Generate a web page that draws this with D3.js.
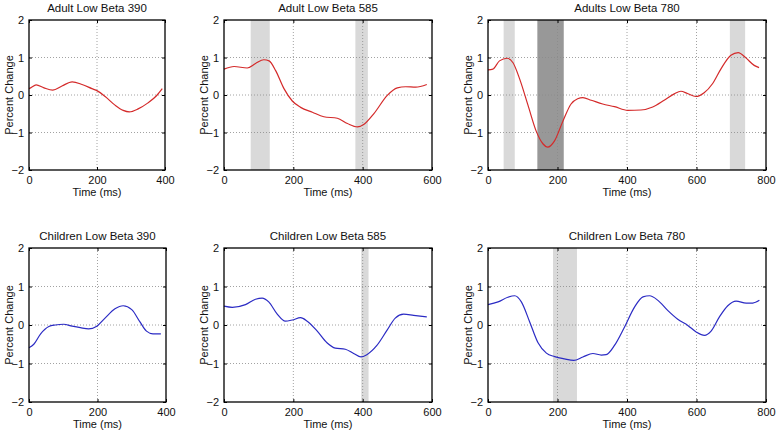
<!DOCTYPE html>
<html lang="en">
<head>
<meta charset="utf-8">
<title>Low Beta percent change</title>
<script src="https://cdn.jsdelivr.net/npm/d3@7"></script>
<style>
  body { margin: 0; background: #fff; }
  text { font-family: "Liberation Sans", Arial, sans-serif; fill: #111; }
</style>
</head>
<body>
<script>
// curve samples, [time (ms), percent change]
var adult390 = [[0,0.17],[5,0.19],[21,0.27],[44,0.19],[70,0.13],[97,0.24],[127,0.35],[156,0.28],[185,0.17],[201,0.11],
  [224,-0.04],[253,-0.27],[277,-0.41],[295,-0.45],[321,-0.37],[350,-0.21],[375,-0.02],[392,0.17]];
var adult585 = [[0,0.69],[29,0.76],[67,0.72],[91,0.84],[115,0.94],[130,0.91],[149,0.65],[173,0.17],[197,-0.16],[221,-0.33],
  [255,-0.46],[288,-0.58],[327,-0.62],[356,-0.76],[385,-0.85],[404,-0.78],[433,-0.49],[471,-0.01],[500,0.19],[524,0.22],[553,0.21],[585,0.28]];
var adult780 = [[0,0.67],[14,0.69],[33,0.91],[55,0.98],[72,0.86],[91,0.43],[115,-0.27],[139,-0.97],[158,-1.30],[172,-1.39],
  [191,-1.23],[215,-0.71],[239,-0.24],[258,-0.10],[273,-0.07],[297,-0.14],[330,-0.24],[364,-0.31],[402,-0.41],[440,-0.40],
  [474,-0.32],[507,-0.14],[536,0.03],[555,0.10],[574,0.04],[598,-0.04],[622,0.06],[646,0.30],[670,0.69],[699,1.06],
  [720,1.13],[742,0.99],[766,0.79],[780,0.73]];
var child390 = [[0,-0.59],[14,-0.50],[34,-0.23],[58,-0.04],[77,0.0],[101,0.02],[126,-0.03],[150,-0.07],[174,-0.10],[198,-0.03],
  [222,0.18],[251,0.42],[275,0.50],[300,0.40],[324,0.08],[343,-0.16],[362,-0.23],[385,-0.23]];
var child585 = [[0,0.49],[24,0.46],[62,0.53],[91,0.67],[110,0.70],[129,0.60],[153,0.29],[177,0.10],[197,0.13],[221,0.19],
  [240,0.10],[269,-0.16],[297,-0.46],[321,-0.60],[350,-0.63],[374,-0.74],[395,-0.83],[412,-0.77],[441,-0.53],[470,-0.14],
  [494,0.18],[518,0.28],[547,0.25],[585,0.21]];
var child780 = [[0,0.53],[29,0.60],[57,0.72],[77,0.76],[96,0.60],[120,0.08],[144,-0.46],[168,-0.73],[192,-0.82],[220,-0.88],
  [247,-0.92],[273,-0.83],[302,-0.74],[326,-0.78],[340,-0.77],[364,-0.53],[393,-0.05],[422,0.47],[446,0.73],[465,0.76],
  [489,0.64],[517,0.38],[546,0.15],[575,-0.01],[599,-0.18],[623,-0.27],[642,-0.16],[666,0.21],[690,0.50],[714,0.62],
  [743,0.57],[762,0.57],[781,0.64]];

// shaded windows [start, end, shade]
var adult390Shade = [];
var adult585Shade = [[77,132,"light"],[379,415,"light"]];
var adult780Shade = [[45,77,"light"],[142,218,"dark"],[696,740,"light"]];
var child390Shade = [];
var child585Shade = [[396,417,"light"]];
var child780Shade = [[187,256,"light"]];

var titles = ["Adult  Low Beta 390","Adult  Low Beta 585","Adults  Low Beta 780",
              "Children  Low Beta 390","Children Low Beta 585","Children  Low Beta 780"];
var xMaxes = [400,600,800,400,600,800];
var yTicks = [-2,-1,0,1,2];

var W = 777, H = 432;
var svg = d3.select("body").append("svg").attr("width",W).attr("height",H);

var panels = [
  {data:adult390, shade:adult390Shade, left:29, right:165, top:20, bottom:170, color:"#d42a2a"},
  {data:adult585, shade:adult585Shade, left:224, right:432, top:20, bottom:170, color:"#d42a2a"},
  {data:adult780, shade:adult780Shade, left:488, right:766, top:20, bottom:170, color:"#d42a2a"},
  {data:child390, shade:child390Shade, left:29, right:166, top:248, bottom:402, color:"#2b2bc4"},
  {data:child585, shade:child585Shade, left:224, right:432, top:248, bottom:402, color:"#2b2bc4"},
  {data:child780, shade:child780Shade, left:488, right:766, top:248, bottom:402, color:"#2b2bc4"}
];

panels.forEach(function(p,i){
  var xMax = xMaxes[i];
  var x = d3.scaleLinear().domain([0,xMax]).range([p.left,p.right]);
  var y = d3.scaleLinear().domain([-2,2]).range([p.bottom,p.top]);
  var xTicks = d3.range(0,xMax+1,200);
  var g = svg.append("g");

  // shaded windows
  g.selectAll("rect.shade").data(p.shade).enter().append("rect")
    .attr("x",function(d){ return x(d[0]); })
    .attr("y",p.top)
    .attr("width",function(d){ return x(d[1])-x(d[0]); })
    .attr("height",p.bottom-p.top)
    .attr("fill",function(d){ return d[2]==="dark" ? "#989898" : "#d9d9d9"; });

  // dotted grid
  g.selectAll("line.gx").data(xTicks.slice(1,-1)).enter().append("line")
    .attr("x1",function(d){ return x(d); }).attr("x2",function(d){ return x(d); })
    .attr("y1",p.top).attr("y2",p.bottom)
    .attr("stroke","#8a8a8a").attr("stroke-width",0.8).attr("stroke-dasharray","1,2");
  g.selectAll("line.gy").data(yTicks.slice(1,-1)).enter().append("line")
    .attr("y1",function(d){ return y(d); }).attr("y2",function(d){ return y(d); })
    .attr("x1",p.left).attr("x2",p.right)
    .attr("stroke","#8a8a8a").attr("stroke-width",0.8).attr("stroke-dasharray","1,2");

  // curve
  var line = d3.line()
    .x(function(d){ return x(d[0]); })
    .y(function(d){ return y(d[1]); })
    .curve(d3.curveMonotoneX);
  g.append("path").datum(p.data)
    .attr("d",line)
    .attr("fill","none")
    .attr("stroke",p.color)
    .attr("stroke-width",1.2);

  // axes, ticks pointing inward like matlab
  g.append("g").attr("transform","translate(0,"+p.bottom+")")
    .call(d3.axisBottom(x).tickValues(xTicks).tickSizeInner(-3).tickSizeOuter(0).tickPadding(6));
  g.append("g").attr("transform","translate(0,"+p.top+")")
    .call(d3.axisTop(x).tickValues(xTicks).tickSizeInner(-3).tickSizeOuter(0).tickFormat(""));
  g.append("g").attr("transform","translate("+p.left+",0)")
    .call(d3.axisLeft(y).tickValues(yTicks).tickFormat(d3.format("d")).tickSizeInner(-3).tickSizeOuter(0).tickPadding(5));
  g.append("g").attr("transform","translate("+p.right+",0)")
    .call(d3.axisRight(y).tickValues(yTicks).tickSizeInner(-3).tickSizeOuter(0).tickFormat(""));
  g.selectAll(".domain").remove();
  g.selectAll(".tick line").attr("stroke","#000");
  g.selectAll(".tick text").attr("font-size","11px").attr("font-family","Liberation Sans, Arial, sans-serif").attr("fill","#111");

  g.append("rect")
    .attr("x",p.left).attr("y",p.top)
    .attr("width",p.right-p.left).attr("height",p.bottom-p.top)
    .attr("fill","none").attr("stroke","#000").attr("stroke-width",1.3);

  // labels
  g.append("text")
    .attr("x",(p.left+p.right)/2).attr("y",p.top-8)
    .attr("text-anchor","middle").attr("font-size","11.5px")
    .text(titles[i]);
  g.append("text")
    .attr("x",(p.left+p.right)/2).attr("y",p.bottom+26)
    .attr("text-anchor","middle").attr("font-size","11px")
    .text("Time (ms)");
  g.append("text")
    .attr("transform","translate("+(p.left-16)+","+((p.top+p.bottom)/2)+") rotate(-90)")
    .attr("text-anchor","middle").attr("font-size","11px")
    .text("Percent Change");
});
</script>
</body>
</html>
